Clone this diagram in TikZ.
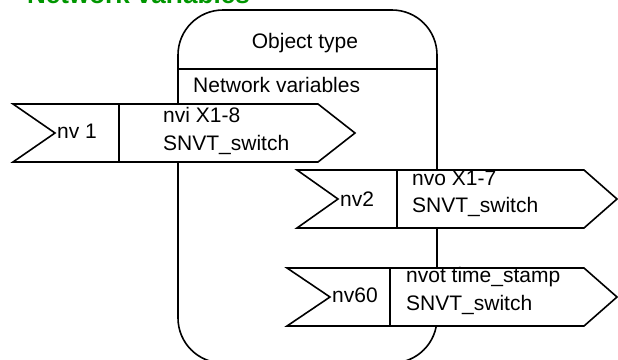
\documentclass[tikz,border=0pt]{standalone}
\usepackage{fontspec}
\setmainfont{Liberation Sans}
\usetikzlibrary{calc}
\definecolor{titleGreen}{RGB}{0,150,0}

\begin{document}
\begin{tikzpicture}[x=1pt,y=-1pt]

  \tikzstyle{objectBox} = [draw, line width=1.6pt, rectangle, rounded corners=45pt, minimum width=259pt, minimum height=353pt, inner sep=0pt];
  \tikzstyle{flagShape} = [draw, line width=1.6pt, fill=white];
  \tikzstyle{label} = [inner sep=0pt, anchor=west, font={\fontsize{21}{27.5}\selectfont}, align=left];
  \tikzstyle{title} = [inner sep=0pt, anchor=base west, text=titleGreen, font={\fontsize{26}{30}\selectfont\bfseries}];

  \useasboundingbox (0,0) rectangle (618,359);
  \clip (0,0) rectangle (618,359);

  % Heading, cut at the top edge
  \node[title, name=heading] at (27,3) {Network variables};

  % The object with its two sections
  \node[objectBox, name=object] at (307.5,186.5) {};
  \draw[line width=1.6pt] ($(object.north west) + (0,60)$) -- ($(object.north east) + (0,60)$);
  \node[label, anchor=center, name=objectType] at (305,43) {Object type};
  \node[label, name=objectSection] at (193,85) {Network variables};

  % First network variable
  \draw[flagShape] (13,104) -- (318,104) -- (355,133) -- (318,162) -- (13,162) -- (55,133) -- cycle;
  \draw[line width=1.6pt] (119,104) -- (119,162);
  \node[label, name=nvOne] at (57,131) {nv 1};
  \node[label, name=nvOneText] at (163,131) {nvi X1-8\\SNVT\_switch};

  % Second network variable
  \draw[flagShape] (297,170) -- (584,170) -- (617,199) -- (584,228) -- (297,228) -- (338,199) -- cycle;
  \draw[line width=1.6pt] (397,170) -- (397,228);
  \node[label, name=nvTwo] at (340,199) {nv2};
  \node[label, name=nvTwoText] at (412,194) {nvo X1-7\\SNVT\_switch};

  % Third network variable
  \draw[flagShape] (287,268) -- (584,268) -- (617,297) -- (584,326) -- (287,326) -- (330,297) -- cycle;
  \draw[line width=1.6pt] (390,268) -- (390,326);
  \node[label, name=nvSixty] at (332,295) {nv60};
  \node[label, name=nvSixtyText] at (406,291) {nvot time\_stamp\\SNVT\_switch};

\end{tikzpicture}
\end{document}
